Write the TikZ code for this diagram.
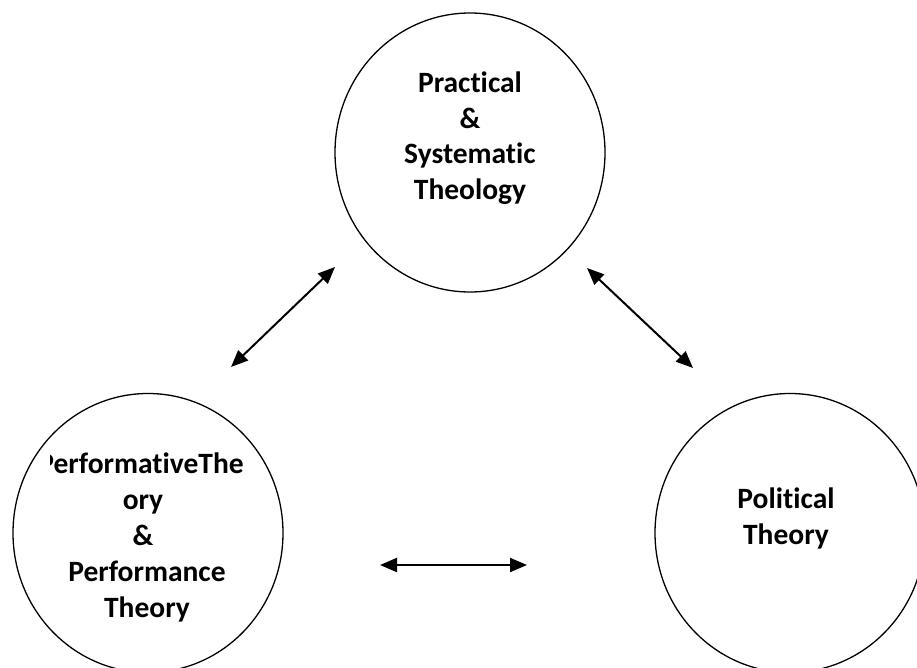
\documentclass[tikz,border=0pt]{standalone}
\usepackage{fontspec}
\setmainfont{Carlito}[Ligatures={NoCommon}]
\usetikzlibrary{shapes.geometric,arrows.meta}
\begin{document}
\begin{tikzpicture}[x=1pt,y=-1pt,
  circ/.style={draw=black, line width=1.3pt, ellipse, inner sep=0pt,
    minimum width=270pt, minimum height=279pt},
  lbl/.style={anchor=base, inner sep=0pt, font=\fontsize{29.5}{34}\selectfont\bfseries},
  dbl/.style={line width=2pt, {Triangle[length=17pt,width=14pt]}-{Triangle[length=17pt,width=14pt]}}
]
\clip (0,0) rectangle (917,668);
\fill[white] (0,0) rectangle (917,668);
% circles
\node[circ] (top) at (470,152.5) {};
\node[circ] (left) at (148,533) {};
\node[circ] (right) at (790,533) {};
% top text
\node[lbl] (t1) at (470,93) {Practical};
\node[lbl] (t2) at (470,128.5) {\&};
\node[lbl] (t3) at (470,164) {Systematic};
\node[lbl] (t4) at (470,199.5) {Theology};
% left text
\begin{scope}
\clip (50,430) rectangle (300,490);
\node[lbl, anchor=base east] (l1) at (244,473) {PerformativeThe};
\end{scope}
\node[lbl] (l2) at (143,509) {ory};
\node[lbl] (l3) at (143,545) {\&};
\node[lbl] (l4) at (147,581) {Performance};
\node[lbl] (l5) at (147,617) {Theory};
% right text
\node[lbl] (r1) at (786,508) {Political};
\node[lbl] (r2) at (786,544) {Theory};
% arrows
\coordinate (a1) at (231,367);
\coordinate (a2) at (335,267);
\coordinate (b1) at (587,268);
\coordinate (b2) at (693,368);
\coordinate (c1) at (380,565);
\coordinate (c2) at (527,565);
\draw[dbl] (a1) -- (a2);
\draw[dbl] (b1) -- (b2);
\draw[dbl] (c1) -- (c2);
\end{tikzpicture}
\end{document}
